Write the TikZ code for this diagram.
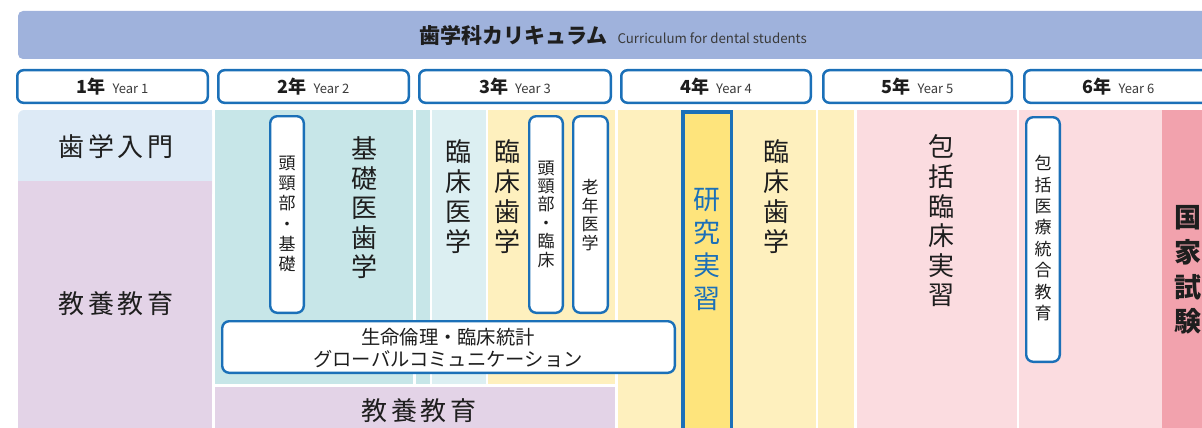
\documentclass[tikz,border=0pt]{standalone}
\usepackage{fontspec}
\setmainfont{Noto Sans CJK JP}
\definecolor{hdr}{HTML}{9FB2DC}
\definecolor{cblue}{HTML}{1B70B8}
\definecolor{lblue}{HTML}{DDEAF6}
\definecolor{lav}{HTML}{E3D3E7}
\definecolor{teal}{HTML}{C7E6E8}
\definecolor{lteal}{HTML}{DCEFF2}
\definecolor{ylw}{HTML}{FEF0BE}
\definecolor{ylws}{HTML}{FEE47C}
\definecolor{pnk}{HTML}{FBDCE0}
\definecolor{dpnk}{HTML}{F2A2AD}
\definecolor{txt}{HTML}{1E1E1E}
\definecolor{sub}{HTML}{3A3A3A}
\begin{document}
\begin{tikzpicture}[x=1pt,y=-1pt,
  yearbox/.style={draw=cblue, line width=2.5pt, fill=white, rounded corners=6pt},
  wbox/.style={draw=cblue, line width=2.4pt, fill=white, rounded corners=7pt},
  lab/.style={align=center, inner sep=0pt, text=txt},
  yr/.style={inner sep=0pt, text=txt},
  big/.style={lab, font=\fontsize{26}{30}\selectfont},
  small/.style={lab, font=\fontsize{17}{20}\selectfont}]
\useasboundingbox (0,0) rectangle (1202,428);
\clip (0,0) rectangle (1202,428);
% header
\fill[hdr, rounded corners=5pt] (18,11) rectangle (1215,59);
\node[yr] (title) at (613,35) {{\bfseries\fontsize{21}{24}\selectfont 歯学科カリキュラム}\hspace{10pt}{\fontsize{13.3}{15}\selectfont\color{sub}Curriculum for dental students}};
% year boxes
\draw[yearbox] (17.25,70.25) rectangle (207.75,102.75);
\draw[yearbox] (218.25,70.25) rectangle (408.75,102.75);
\draw[yearbox] (419.25,70.25) rectangle (610.75,102.75);
\draw[yearbox] (621.25,70.25) rectangle (810.75,102.75);
\draw[yearbox] (823.25,70.25) rectangle (1011.75,102.75);
\draw[yearbox] (1024.25,70.25) rectangle (1214.75,102.75);
\node[yr] (y1) at (112.5,87) {{\bfseries\fontsize{18}{20}\selectfont 1年}\hspace{7pt}{\fontsize{13}{15}\selectfont\color{sub}Year 1}};
\node[yr] (y2) at (313.5,87) {{\bfseries\fontsize{18}{20}\selectfont 2年}\hspace{7pt}{\fontsize{13}{15}\selectfont\color{sub}Year 2}};
\node[yr] (y3) at (515,87) {{\bfseries\fontsize{18}{20}\selectfont 3年}\hspace{7pt}{\fontsize{13}{15}\selectfont\color{sub}Year 3}};
\node[yr] (y4) at (716,87) {{\bfseries\fontsize{18}{20}\selectfont 4年}\hspace{7pt}{\fontsize{13}{15}\selectfont\color{sub}Year 4}};
\node[yr] (y5) at (917.5,87) {{\bfseries\fontsize{18}{20}\selectfont 5年}\hspace{7pt}{\fontsize{13}{15}\selectfont\color{sub}Year 5}};
\node[yr] (y6) at (1118.5,87) {{\bfseries\fontsize{18}{20}\selectfont 6年}\hspace{7pt}{\fontsize{13}{15}\selectfont\color{sub}Year 6}};
% year 1 column
\fill[lblue, rounded corners=6pt] (18,110) rectangle (212,200);
\fill[lblue] (100,110) rectangle (212,181);
\fill[lav] (18,181) rectangle (212,440);
% other bands
\fill[teal] (215,110) rectangle (413,384);
\fill[teal] (416,110) rectangle (430,384);
\fill[lteal] (432,110) rectangle (486,384);
\fill[ylw] (488,110) rectangle (615,384);
\fill[lav] (215,387) rectangle (615,440);
\fill[ylw] (618,110) rectangle (816,440);
\fill[ylw] (818,110) rectangle (854,440);
\fill[pnk] (857,110) rectangle (1017,440);
\fill[pnk] (1019,110) rectangle (1162,440);
\fill[dpnk] (1162,110) rectangle (1210,440);
% research box
\draw[draw=cblue, line width=3.5pt, fill=ylws] (682.75,111.75) rectangle (731.25,450);
% labels
\node[lab, font=\fontsize{26}{30}\selectfont] (nyumon) at (116,147) {歯\hspace{3.5pt}学\hspace{3.5pt}入\hspace{3.5pt}門};
\node[lab, font=\fontsize{26}{30}\selectfont] (kyoyo1) at (116,304) {教\hspace{3.5pt}養\hspace{3.5pt}教\hspace{3.5pt}育};
\node[lab, font=\fontsize{26}{30}\selectfont] (kyoyo2) at (419,411) {教\hspace{3.5pt}養\hspace{3.5pt}教\hspace{3.5pt}育};
\node[big, font=\fontsize{26}{29.5}\selectfont] (kiso) at (364,208) {基\\礎\\医\\歯\\学};
\node[big] (rinsho3a) at (458,197) {臨\\床\\医\\学};
\node[big] (rinsho3b) at (507,197) {臨\\床\\歯\\学};
\node[big] (rinsho4) at (776,197) {臨\\床\\歯\\学};
\node[big, font=\fontsize{26}{29.6}\selectfont] (hokatsu) at (941,221) {包\\括\\臨\\床\\実\\習};
\node[lab, font=\bfseries\fontsize{27}{34.7}\selectfont] (kokka) at (1188,270) {国\\家\\試\\験};
\node[lab, text=cblue, font=\fontsize{27}{33}\selectfont] (kenkyu) at (707,250) {研\\究\\実\\習};
% small boxes
\draw[wbox] (270.2,116.2) rectangle (303.8,312.8);
\node[small, font=\fontsize{17}{20.2}\selectfont] (tkk) at (287,214) {頭\\頸\\部\\・\\基\\礎};
\draw[wbox] (529.2,116.2) rectangle (562.8,312.8);
\node[small, font=\fontsize{17}{18.4}\selectfont] (tkr) at (546,214) {頭\\頸\\部\\・\\臨\\床};
\draw[wbox] (573.2,116.2) rectangle (607.8,312.8);
\node[small, font=\fontsize{17}{18.7}\selectfont] (rou) at (590,215) {老\\年\\医\\学};
\draw[wbox] (1026.2,117.2) rectangle (1059.8,361.8);
\node[small, font=\fontsize{17}{21.4}\selectfont] (hok) at (1043,238) {包\\括\\医\\療\\統\\合\\教\\育};
\draw[wbox] (222.2,321.2) rectangle (674.8,372.8);
\node[lab, font=\fontsize{19.3}{22}\selectfont] (seimei) at (448,348) {生命倫理・臨床統計\\グローバルコミュニケーション};
\end{tikzpicture}
\end{document}
